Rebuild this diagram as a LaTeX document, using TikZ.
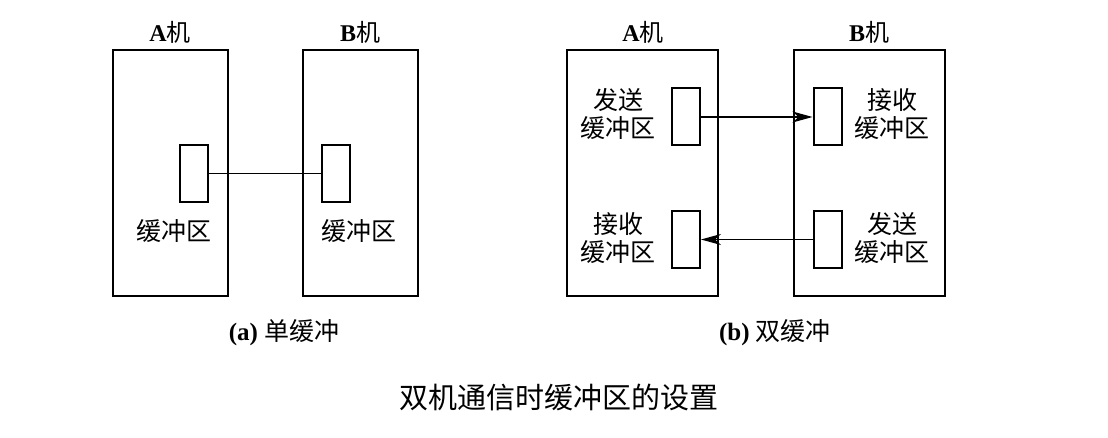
\documentclass[tikz,border=0pt]{standalone}
\usepackage{fontspec}
\setmainfont{Liberation Serif}
\newfontfamily\cjk{Noto Sans CJK SC}
\usetikzlibrary{arrows.meta}

\begin{document}
\begin{tikzpicture}[x=1pt, y=-1pt,
    host/.style={draw, line width=2pt, minimum height=246pt, inner sep=0pt},
    buf/.style={draw, line width=2pt, minimum width=28pt, minimum height=57pt, inner sep=0pt},
    lbl/.style={font=\fontsize{25}{28}\selectfont, align=center, inner sep=0pt},
    link/.style={line width=1.1pt},
    flow/.style={link, -{Stealth[length=20pt, width=11pt, inset=6pt]}}]
    \useasboundingbox (0,0) rectangle (1108,438);
    \def\ym{173.5}
    \def\wa{115}
    \def\wb{151}

    % (a) single buffer
    \node[host, minimum width=\wa pt] (hostA) at (170.5, \ym) {};
    \node[host, minimum width=\wa pt] (hostB) at (360, \ym) {};
    \node[buf] (bufA) at (193.5, \ym) {};
    \node[buf] (bufB) at (336, \ym) {};
    \draw[link] (bufA.east) -- (bufB.west);
    \node[lbl, font=\fontsize{24}{26}\selectfont] (nameA) at (170, 32) {\textbf{A}{\cjk 机}};
    \node[lbl, font=\fontsize{24}{26}\selectfont] (nameB) at (360, 32) {\textbf{B}{\cjk 机}};
    \node[lbl] (txtA) at (174, 231) {\cjk 缓冲区};
    \node[lbl] (txtB) at (359, 231) {\cjk 缓冲区};
    \node[lbl] (capA) at (284, 333) {\textbf{(a)} {\cjk 单缓冲}};

    % (b) double buffer
    \node[host, minimum width=\wb pt] (hostC) at (642.5, \ym) {};
    \node[host, minimum width=\wb pt] (hostD) at (869, \ym) {};
    \node[buf] (sendC) at (686, 117) {};
    \node[buf] (recvD) at (827.5, 117) {};
    \node[buf] (recvC) at (686, 239.5) {};
    \node[buf] (sendD) at (827.5, 239.5) {};
    \draw[flow] (sendC.east) -- (recvD.west);
    \draw[flow] (sendD.west) -- (recvC.east);
    \node[lbl, font=\fontsize{24}{26}\selectfont] (nameC) at (643, 32) {\textbf{A}{\cjk 机}};
    \node[lbl, font=\fontsize{24}{26}\selectfont] (nameD) at (869, 32) {\textbf{B}{\cjk 机}};
    \node[lbl] (txtC1) at (618, 114) {\cjk 发送\\\cjk 缓冲区};
    \node[lbl] (txtD1) at (892, 114) {\cjk 接收\\\cjk 缓冲区};
    \node[lbl] (txtC2) at (618, 238) {\cjk 接收\\\cjk 缓冲区};
    \node[lbl] (txtD2) at (892, 238) {\cjk 发送\\\cjk 缓冲区};
    \node[lbl] (capB) at (775, 333) {\textbf{(b)} {\cjk 双缓冲}};

    % caption
    \node[lbl, font=\fontsize{29}{32}\selectfont] (title) at (559, 397) {\cjk 双机通信时缓冲区的设置};
\end{tikzpicture}
\end{document}
